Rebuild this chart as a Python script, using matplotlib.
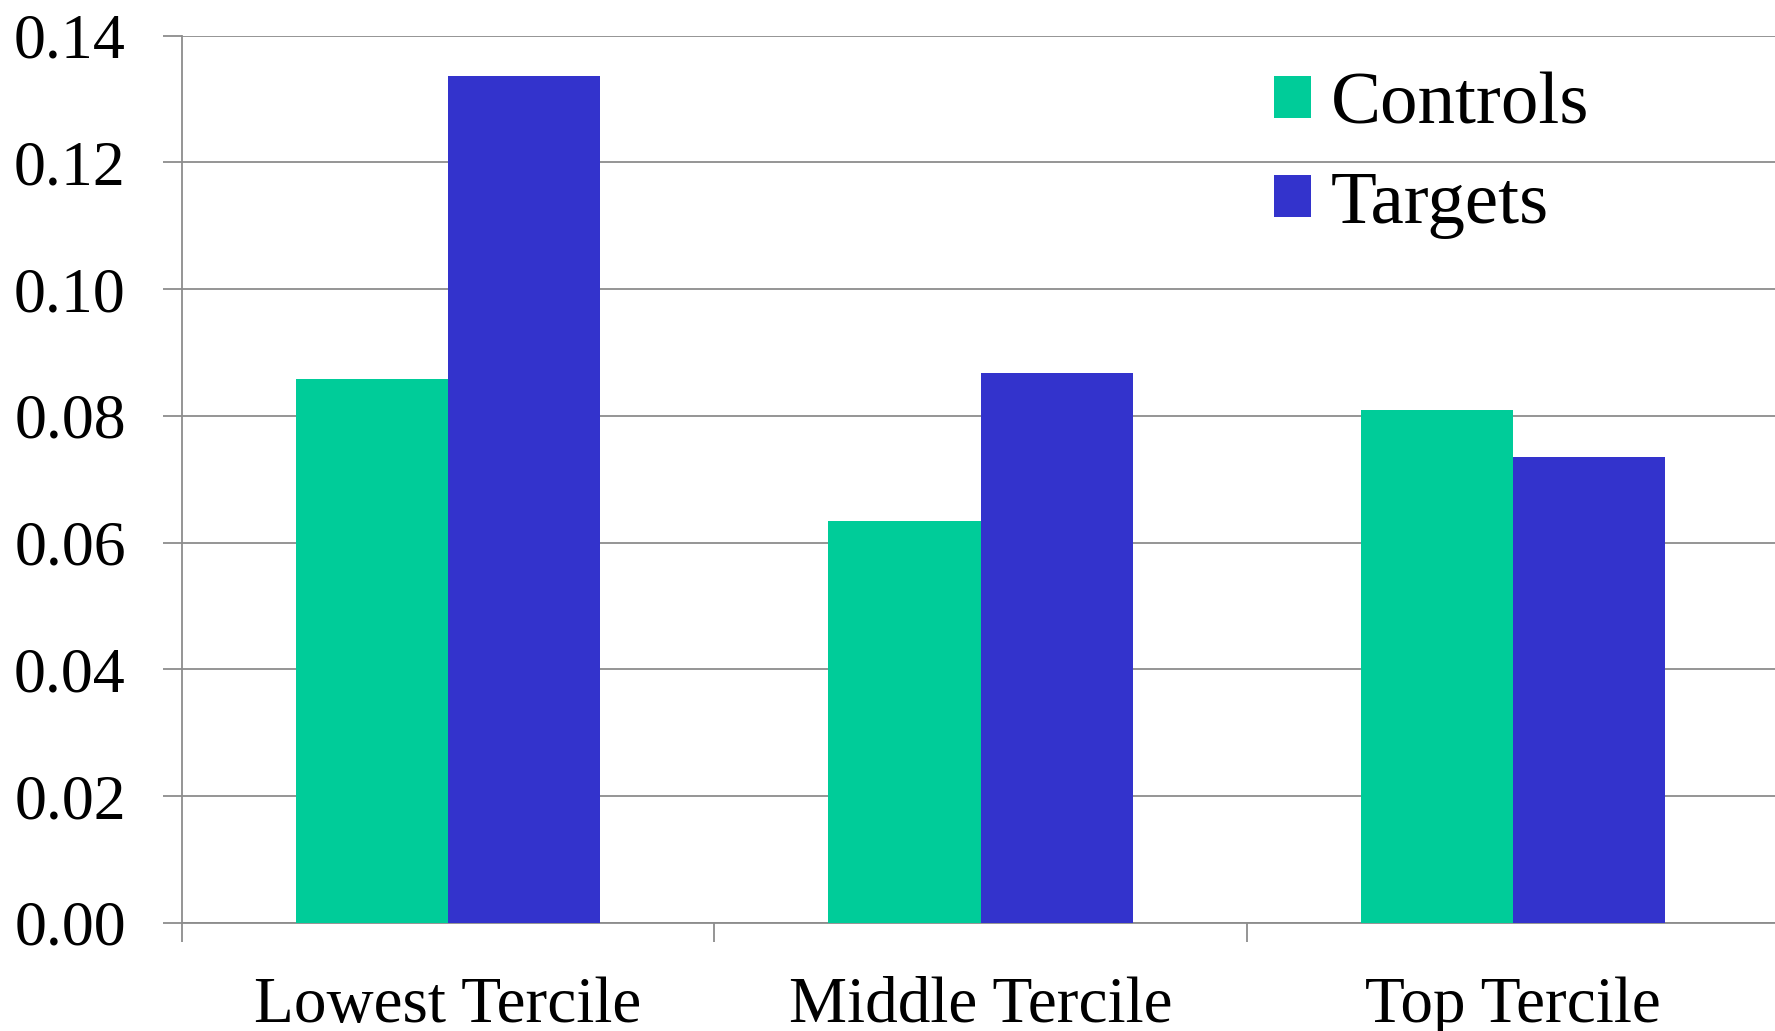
import matplotlib
matplotlib.use("Agg")
import matplotlib.pyplot as plt
import numpy as np
from matplotlib.patches import Patch

categories = ["Lowest Tercile", "Middle Tercile", "Top Tercile"]
controls = [0.0858, 0.0634, 0.0810]
targets = [0.1336, 0.0867, 0.0735]
y_ticks = [0.00, 0.02, 0.04, 0.06, 0.08, 0.10, 0.12, 0.14]

GREEN = "#00CC99"
BLUE = "#3333CC"
GRID = "#8C8C8C"

plt.rcParams["font.family"] = ["Liberation Serif", "DejaVu Serif"]

fig = plt.figure(figsize=(17.75, 10.31), dpi=100)
ax = fig.add_axes([0.1024, 0.105, 0.9, 0.8604])

x = np.arange(len(categories))
w = 1 / 3.5
ax.bar(x - w / 2, controls, width=w, color=GREEN, zorder=3, label="Controls")
ax.bar(x + w / 2, targets, width=w, color=BLUE, zorder=3, label="Targets")

ax.set_xlim(-0.5, 2.5)
ax.set_ylim(0, 0.14)
ax.set_yticks(y_ticks)
ax.set_yticklabels([f"{v:.2f}" for v in y_ticks])
ax.yaxis.grid(True, color=GRID, linewidth=1.3, zorder=0)
ax.set_axisbelow(True)

ax.set_xticks(x)
ax.set_xticklabels(categories)
ax.set_xticks([-0.5, 0.5, 1.5, 2.5], minor=True)
ax.tick_params(axis="x", which="major", length=0, pad=38.5, labelsize=47)
ax.tick_params(axis="x", which="minor", length=13.7, width=1.3, color=GRID, direction="out")
ax.tick_params(axis="y", length=13.5, width=1.3, color=GRID, pad=26.8, labelsize=46)

for side in ("top", "right"):
    ax.spines[side].set_visible(False)
for side in ("left", "bottom"):
    ax.spines[side].set_color(GRID)
    ax.spines[side].set_linewidth(1.3)

handles = [Patch(facecolor=GREEN, edgecolor="none"), Patch(facecolor=BLUE, edgecolor="none")]
ax.legend(handles, ["Controls", "Targets"], loc="upper left",
          bbox_to_anchor=(0.6835, 0.959), frameon=False, fontsize=54,
          handlelength=0.5, handleheight=0.5, handletextpad=0.26,
          labelspacing=0.42, borderpad=0, borderaxespad=0)

fig.savefig("out.png", dpi=100)
